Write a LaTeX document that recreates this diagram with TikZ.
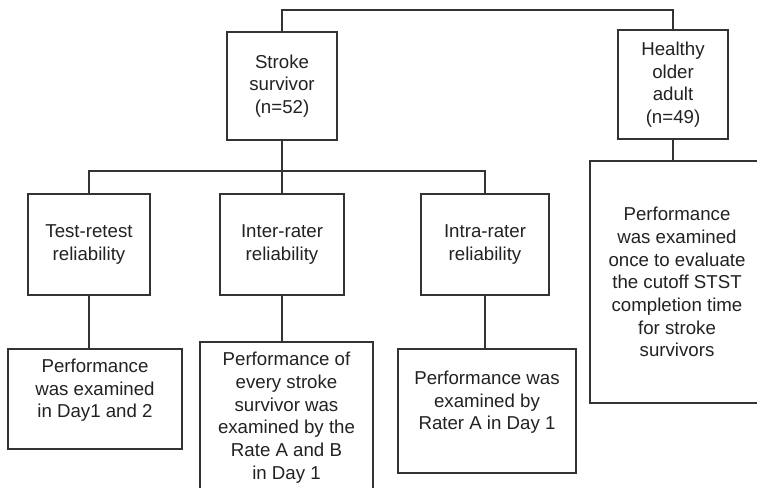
\documentclass[tikz,border=0pt]{standalone}
\usepackage{fontspec}
\setmainfont{Liberation Sans}
\usetikzlibrary{positioning}
\definecolor{boxline}{HTML}{333333}
\definecolor{textgray}{HTML}{222222}

\begin{document}
\begin{tikzpicture}[x=0.75pt,y=-0.75pt,
    box/.style={draw=boxline,line width=1.6pt,fill=white,align=center,
      font=\fontsize{14}{17}\selectfont,text=textgray,inner sep=2pt},
    link/.style={draw=boxline,line width=1.6pt}]
      \useasboundingbox (0,0) rectangle (757,487);

      \node[box,minimum width=82.5pt,minimum height=81pt]  (stroke)  at (282,86)    {Stroke\\survivor\\(n=52)};
      \node[box,minimum width=83pt,minimum height=82pt]    (healthy) at (673,84.5)  {Healthy\\older\\adult\\(n=49)};
      \node[box,minimum width=91pt,minimum height=76pt]    (test)    at (89,244.5)  {Test-retest\\reliability};
      \node[box,minimum width=93pt,minimum height=76pt]    (inter)   at (282,244.5) {Inter-rater\\reliability};
      \node[box,minimum width=96pt,minimum height=76pt]    (intra)   at (485,244.5) {Intra-rater\\reliability};
      \node[box,minimum width=130.5pt,minimum height=75pt,text depth=16pt]
        (testout) at (95,399) {Performance\\was examined\\in Day1 and 2};
      \node[box,minimum width=130pt,minimum height=118.5pt,text depth=8pt]
        (interout) at (286.5,421) {Performance of\\every stroke\\survivor was\\examined by the\\Rate A and B\\in Day 1};
      \node[box,minimum width=133.5pt,minimum height=93pt,text depth=16pt]
        (intraout) at (487,411) {Performance was\\examined by\\Rater A in Day 1};
      \node[box,minimum width=130.5pt,minimum height=181.5pt]
        (healthyout) at (677,282) {Performance\\was examined\\once to evaluate\\the cutoff STST\\completion time\\for stroke\\survivors};

      \coordinate (top) at (282,10);
      \coordinate (bus) at (282,171);

      \draw[link] (stroke.north) -- (top) -| (healthy.north);
      \draw[link] (stroke.south) -- (inter.north);
      \draw[link] (test.north) |- (bus) -| (intra.north);
      \draw[link] (test.south)    -- (test.south |- testout.north);
      \draw[link] (inter.south)   -- (inter.south |- interout.north);
      \draw[link] (intra.south)   -- (intra.south |- intraout.north);
      \draw[link] (healthy.south) -- (healthy.south |- healthyout.north);

\end{tikzpicture}
\end{document}
